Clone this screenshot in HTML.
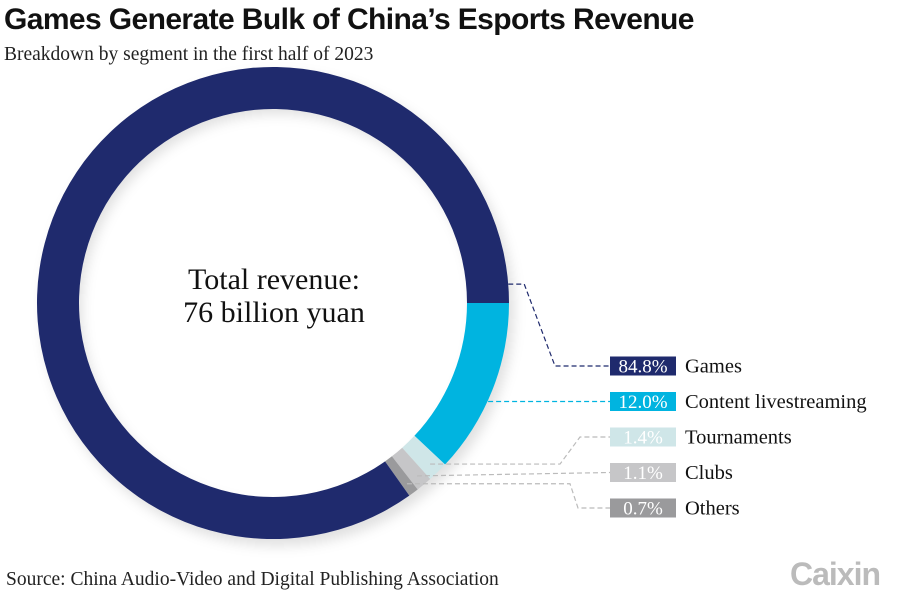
<!DOCTYPE html>
<html><head><meta charset="utf-8"><style>
body{margin:0;background:#fff;width:900px;height:599px;overflow:hidden;position:relative;font-family:"Liberation Serif",serif}
#title{position:absolute;left:4px;top:3px;font:bold 30px "Liberation Sans",sans-serif;letter-spacing:-0.6px;color:#111}
#sub{position:absolute;left:4px;top:44px;font-size:19.5px;color:#222}
#src{position:absolute;left:6px;top:569px;font-size:19.5px;color:#222}
#logo{position:absolute;left:790px;top:556px;font:bold 32px "Liberation Sans",sans-serif;color:#bbb;letter-spacing:-1px}
</style></head><body>
<div id="title">Games Generate Bulk of China’s Esports Revenue</div>
<div id="sub">Breakdown by segment in the first half of 2023</div>
<svg id="chart" width="900" height="599" style="position:absolute;left:0;top:0">
<defs><filter id="sh" x="-20%" y="-20%" width="140%" height="140%"><feGaussianBlur stdDeviation="6"/></filter></defs>
<circle cx="278" cy="310" r="216" fill="none" stroke="#000" stroke-opacity="0.12" stroke-width="40" filter="url(#sh)"/>
<g id="slices"></g>
<g id="leaders"></g>
<text x="274" y="289" text-anchor="middle" font-family="Liberation Serif" font-size="30" fill="#111">Total revenue:</text>
<text x="274" y="322" text-anchor="middle" font-family="Liberation Serif" font-size="30" fill="#111">76 billion yuan</text>
<g id="legend"></g>
</svg>
<div id="src">Source: China Audio-Video and Digital Publishing Association</div>
<div id="logo">Caixin</div>
<script>
const categories=["Content livestreaming","Tournaments","Clubs","Others","Games"];
const values=[12.0,1.4,1.1,0.7,84.8];
const labels=["12.0%","1.4%","1.1%","0.7%","84.8%"];
const legendOrder=[4,0,1,2,3];
const colors=["#00b4e0","#cfe6e8","#c6c6c8","#9a9a9c","#1f2a6d"];
const textColors=["#fff","#fff","#fff","#fff","#fff"];
const NS="http://www.w3.org/2000/svg";
const cx=273,cy=303,R=236,r=194;
const total=values.reduce((a,b)=>a+b,0);
function pt(a,rad){return [cx+rad*Math.sin(a),cy-rad*Math.cos(a)];}
let a0=Math.PI/2;
const mids=[];
const sg=document.getElementById('slices');
values.forEach((v,i)=>{
 const a1=a0+v/total*2*Math.PI;
 const p1=pt(a0,R),p2=pt(a1,R),p3=pt(a1,r),p4=pt(a0,r);
 const lg=(a1-a0)>Math.PI?1:0;
 const p=document.createElementNS(NS,'path');
 p.setAttribute('d',`M${p1}A${R},${R} 0 ${lg} 1 ${p2}L${p3}A${r},${r} 0 ${lg} 0 ${p4}Z`);
 p.setAttribute('fill',colors[i]);
 
 
 sg.appendChild(p);
 mids.push([a0,a1]);a0=a1;
});
const lg=document.getElementById('leaders');
const boxX=610,boxW=66,boxH=19,rowY0=366,rowStep=35.5;
legendOrder.forEach((ci,row)=>{
 const y=rowY0+row*rowStep;
 let pts;
 if(ci===4){const s=pt(mids[4][1]-0.08,R);pts=[s,[s[0]+16,s[1]],[555,y],[boxX,y]];}
 else if(ci===0){const dy=y-cy;const x=cx+Math.sqrt(((R+r)/2)**2-dy*dy);pts=[[x,y],[boxX,y]];}
 else{const m=(mids[ci][0]+mids[ci][1])/2;const s=pt(m,(R+r)/2+10);
  const ys=s[1]; pts=Math.abs(ys-y)<6?[s,[boxX,y]]:[s,[ys<y?570:560,ys],[ys<y?578:580,y],[boxX,y]];}
 const pl=document.createElementNS(NS,'polyline');
 pl.setAttribute('points',pts.map(p=>p.join(',')).join(' '));
 pl.setAttribute('fill','none');
 pl.setAttribute('stroke',ci===4?'#1f2a6d':ci===0?'#00b4e0':'#bbb');
 pl.setAttribute('stroke-width','1.2');
 pl.setAttribute('stroke-dasharray','5,3');
 
 
 lg.appendChild(pl);
});
const leg=document.getElementById('legend');
legendOrder.forEach((ci,row)=>{
 const y=rowY0+row*rowStep;
 const g=document.createElementNS(NS,'g');
 
 
 const b=document.createElementNS(NS,'rect');
 b.setAttribute('x',boxX);b.setAttribute('y',y-boxH/2);b.setAttribute('width',boxW);b.setAttribute('height',boxH);b.setAttribute('fill',colors[ci]);
 g.appendChild(b);
 const t=document.createElementNS(NS,'text');
 t.setAttribute('x',boxX+boxW/2);t.setAttribute('y',y+6.5);t.setAttribute('text-anchor','middle');
 t.setAttribute('font-family','Liberation Serif');t.setAttribute('font-size','19');t.setAttribute('fill',textColors[ci]);
 t.textContent=labels[ci];g.appendChild(t);
 const n=document.createElementNS(NS,'text');
 n.setAttribute('x',685);n.setAttribute('y',y+6.5);
 n.setAttribute('font-family','Liberation Serif');n.setAttribute('font-size','20.5');n.setAttribute('fill','#111');
 n.textContent=categories[ci];g.appendChild(n);
 leg.appendChild(g);
});
</script>
</body></html>
